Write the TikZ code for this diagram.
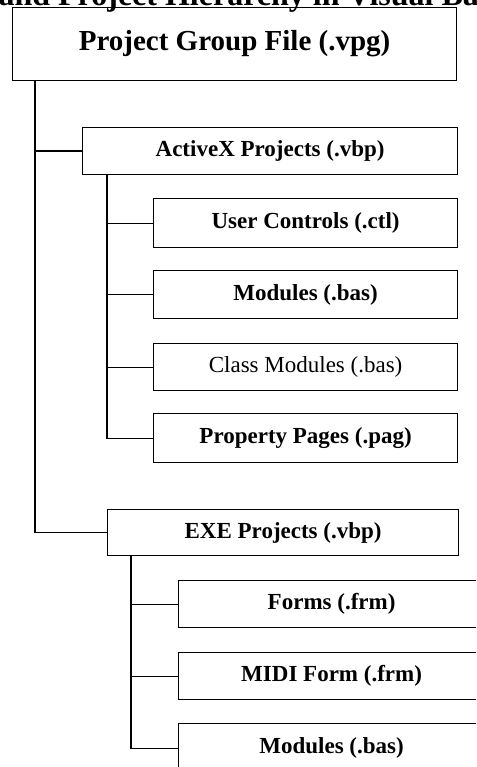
\documentclass[tikz,border=0pt]{standalone}
\usepackage{fontspec}
\setmainfont{Liberation Serif}
\begin{document}
\begin{tikzpicture}[x=1pt,y=-1pt,
  line width=1.2pt,
  box/.style={draw=black, line width=1.2pt, rectangle, inner sep=0pt, anchor=north west,
    font=\fontsize{23}{27}\selectfont\bfseries},
  regbox/.style={box, font=\fontsize{23}{27}\selectfont},
  topbox/.style={box, font=\fontsize{29}{34}\selectfont\bfseries},
  link/.style={draw=black, line width=1.2pt}]
\useasboundingbox (0,0) rectangle (476,767);
\begin{scope}
\clip (0,0) rectangle (476,767);
\node[anchor=base west, inner sep=0pt, font=\fontsize{32}{36}\selectfont\bfseries] (title) at (-2,6) {and Project Hierarchy in Visual Ba};

\node[topbox, minimum width=444pt, minimum height=73pt] (pg) at (12,7) {Project Group File (.vpg)};

\node[box, minimum width=375pt, minimum height=47pt] (ax) at (82,127) {ActiveX Projects (.vbp)};
\node[box, minimum width=304pt, minimum height=49pt] (uc) at (153,198) {User Controls (.ctl)};
\node[box, minimum width=304pt, minimum height=48pt] (mod) at (153,270) {Modules (.bas)};
\node[regbox, minimum width=304pt, minimum height=47pt] (cls) at (153,343) {Class Modules (.bas)};
\node[box, minimum width=304pt, minimum height=49pt] (pp) at (153,413) {Property Pages (.pag)};

\node[box, minimum width=351pt, minimum height=46pt] (exe) at (107,509) {EXE Projects (.vbp)};
\node[box, minimum width=306pt, minimum height=47pt] (frm) at (178,580) {Forms (.frm)};
\node[box, minimum width=306pt, minimum height=47pt] (midi) at (178,652) {MIDI Form (.frm)};
\node[box, minimum width=306pt, minimum height=49pt] (mod2) at (178,723) {Modules (.bas)};

\draw[link] ([xshift=23pt]pg.south west) |- (ax.west);
\draw[link] ([xshift=23pt]pg.south west) |- (exe.west);

\draw[link] ([xshift=25pt]ax.south west) |- (uc.west);
\draw[link] ([xshift=25pt]ax.south west) |- (mod.west);
\draw[link] ([xshift=25pt]ax.south west) |- (cls.west);
\draw[link] ([xshift=25pt]ax.south west) |- (pp.west);

\draw[link] ([xshift=24pt]exe.south west) |- (frm.west);
\draw[link] ([xshift=24pt]exe.south west) |- (midi.west);
\draw[link] ([xshift=24pt]exe.south west) |- (mod2.west);
\end{scope}
\end{tikzpicture}
\end{document}
